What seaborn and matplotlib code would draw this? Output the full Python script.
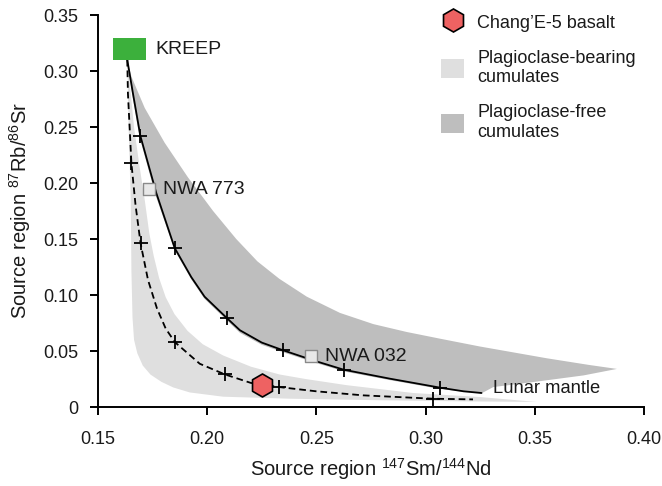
import numpy as np
import pandas as pd
import seaborn as sns
import matplotlib
matplotlib.use("Agg")
import matplotlib.pyplot as plt
from matplotlib.lines import Line2D
from matplotlib.patches import Patch

# ---------------- data ----------------
kreep_x = [0.1569, 0.1718]
kreep_y = [0.3098, 0.3298]

# Plagioclase-free cumulates trend (solid curve, KREEP -> lunar mantle)
free_x = [0.1634, 0.1660, 0.1694, 0.1767, 0.1851, 0.1927, 0.1988, 0.2089, 0.2150, 0.2250, 0.2345, 0.2486, 0.2625, 0.2836, 0.3068, 0.3174, 0.3256]
free_y = [0.310, 0.280, 0.242, 0.191, 0.142, 0.116, 0.0985, 0.0796, 0.0685, 0.0575, 0.0508, 0.0416, 0.0333, 0.0253, 0.0172, 0.0140, 0.0125]
free_tick_x = [0.1694, 0.1851, 0.2089, 0.2345, 0.2625, 0.3068]
free_tick_y = [0.242, 0.142, 0.0796, 0.0508, 0.0333, 0.0172]

# Plagioclase-bearing cumulates trend (dashed curve)
bear_x = [0.1634, 0.1637, 0.1653, 0.1672, 0.1695, 0.1729, 0.1770, 0.1810, 0.1852, 0.1966, 0.2081, 0.2200, 0.2330, 0.2500, 0.2714, 0.3034, 0.3217]
bear_y = [0.310, 0.280, 0.2176, 0.180, 0.1461, 0.1134, 0.0880, 0.0700, 0.0579, 0.0386, 0.0291, 0.0215, 0.0178, 0.0140, 0.0104, 0.0074, 0.0068]
bear_tick_x = [0.1653, 0.1695, 0.1852, 0.2081, 0.2330, 0.3034]
bear_tick_y = [0.2176, 0.1461, 0.0579, 0.0291, 0.0178, 0.0074]

# dark field (plagioclase-free cumulates): outer edge, then inner edge back
dark_x = [0.1634, 0.1653, 0.1714, 0.1805, 0.1912, 0.2027, 0.2133, 0.2230, 0.2330, 0.2456, 0.2608, 0.2761, 0.2913, 0.3066, 0.3249, 0.3555, 0.3750, 0.3876,
          0.3723, 0.3494, 0.3310, 0.3256, 0.3068, 0.2836, 0.2625, 0.2486, 0.2345, 0.2250, 0.2150, 0.2089, 0.1988, 0.1927, 0.1851, 0.1762, 0.1689, 0.1656]
dark_y = [0.310, 0.295, 0.267, 0.236, 0.205, 0.175, 0.150, 0.130, 0.1145, 0.0985, 0.0840, 0.0740, 0.0670, 0.0610, 0.0540, 0.0435, 0.0375, 0.0340,
          0.0282, 0.0223, 0.0178, 0.0122, 0.0160, 0.0240, 0.0318, 0.0400, 0.0490, 0.0555, 0.0662, 0.0775, 0.0965, 0.1140, 0.1400, 0.1900, 0.2420, 0.2800]

# light field (plagioclase-bearing cumulates): left/lower edge, then upper edge back
light_x = [0.1634, 0.1640, 0.1650, 0.1653, 0.1658, 0.1665, 0.1680, 0.1705, 0.1740, 0.1790, 0.1844, 0.1920, 0.2073, 0.2379, 0.2800, 0.3200, 0.3509,
           0.3249, 0.2943, 0.2638, 0.2450, 0.2332, 0.2200, 0.2073, 0.1980, 0.1910, 0.1850, 0.1810, 0.1780, 0.1755, 0.1735, 0.1714, 0.1690, 0.1665, 0.1645]
light_y = [0.310, 0.250, 0.185, 0.122, 0.080, 0.060, 0.048, 0.037, 0.029, 0.0225, 0.0175, 0.0130, 0.0092, 0.0074, 0.0060, 0.0050, 0.0045,
           0.0089, 0.0125, 0.0195, 0.0250, 0.0290, 0.0360, 0.0460, 0.0560, 0.0680, 0.0830, 0.0980, 0.1150, 0.1350, 0.1550, 0.1848, 0.2150, 0.2500, 0.2900]

ce5_x = [0.2252]
ce5_y = [0.0193]

nwa_names = ["NWA 773", "NWA 032"]
nwa_x = [0.1732, 0.2475]
nwa_y = [0.1946, 0.0455]

xticks = [0.15, 0.20, 0.25, 0.30, 0.35, 0.40]
xtick_labels = ["0.15", "0.20", "0.25", "0.30", "0.35", "0.40"]
yticks = [0, 0.05, 0.10, 0.15, 0.20, 0.25, 0.30, 0.35]
ytick_labels = ["0", "0.05", "0.10", "0.15", "0.20", "0.25", "0.30", "0.35"]

# ---------------- style ----------------
sns.set_theme(style="ticks")
plt.rcParams["font.family"] = ["Liberation Sans", "DejaVu Sans"]
plt.rcParams["mathtext.fontset"] = "custom"
plt.rcParams["mathtext.rm"] = "Liberation Sans"
plt.rcParams["mathtext.it"] = "Liberation Sans:italic"
plt.rcParams["mathtext.bf"] = "Liberation Sans:bold"

DARK = "#bebebe"
LIGHT = "#dfdfdf"
GREEN = "#3cb03c"
RED = "#ee6262"
TXT = "#1a1a1a"

fig = plt.figure(figsize=(6.62, 4.86), dpi=100)
ax = fig.add_axes([98 / 662, 1 - 407 / 486, 546 / 662, 392 / 486])

# fields
ax.fill(light_x, light_y, color=LIGHT, lw=0, zorder=1)
ax.fill(dark_x, dark_y, color=DARK, lw=0, zorder=2)

# trend lines
df_free = pd.DataFrame({"x": free_x, "y": free_y})
df_bear = pd.DataFrame({"x": bear_x, "y": bear_y})
sns.lineplot(data=df_free, x="x", y="y", sort=False, estimator=None, color="black", lw=1.3, ax=ax, zorder=3)
sns.lineplot(data=df_bear, x="x", y="y", sort=False, estimator=None, color="black", lw=1.3, ax=ax, zorder=3,
             linestyle=(0, (3.7, 2.2)))

# tick crosses on the curves
for tx, ty in [(free_tick_x, free_tick_y), (bear_tick_x, bear_tick_y)]:
    sns.scatterplot(x=tx, y=ty, marker="+", s=90, color="black", linewidth=1.3, ax=ax, zorder=4)

# KREEP box
ax.fill_between(kreep_x, [kreep_y[0]] * 2, [kreep_y[1]] * 2, color=GREEN, lw=0, zorder=5)
ax.text(0.1761, 0.319, "KREEP", fontsize=14, color=TXT, va="center", ha="left", zorder=6)

# NWA meteorites
sns.scatterplot(x=nwa_x, y=nwa_y, marker="s", s=80, color="#e8e8e8", edgecolor="#8a8a8a",
                linewidth=1.0, ax=ax, zorder=6)
for name, x, y in zip(nwa_names, nwa_x, nwa_y):
    ax.text(x + 0.0066, y, name, fontsize=14, color=TXT, va="center", ha="left", zorder=6)

# Chang'E-5 basalt
sns.scatterplot(x=ce5_x, y=ce5_y, marker="h", s=275, color=RED, edgecolor="black",
                linewidth=1.2, ax=ax, zorder=7)

ax.text(0.3307, 0.0167, "Lunar mantle", fontsize=13.2, color=TXT, va="center", ha="left", zorder=6)

# axes
ax.set_xlim(0.15, 0.40)
ax.set_ylim(0, 0.35)
ax.set_xticks(xticks)
ax.set_xticklabels(xtick_labels, fontsize=13, color=TXT)
ax.set_yticks(yticks)
ax.set_yticklabels(ytick_labels, fontsize=13, color=TXT)
ax.set_xlabel("Source region $^{147}$Sm/$^{144}$Nd", fontsize=14.5, color=TXT)
ax.set_ylabel("Source region $^{87}$Rb/$^{86}$Sr", fontsize=14.5, color=TXT)
ax.xaxis.set_label_coords(0.5, (407 - 469) / 392)
ax.yaxis.set_label_coords((20 - 98) / 546, 0.5)
ax.xaxis.label.set_verticalalignment("center")
ax.yaxis.label.set_verticalalignment("center")
for s in ["top", "right"]:
    ax.spines[s].set_visible(False)
for s in ["left", "bottom"]:
    ax.spines[s].set_linewidth(1.4)
    ax.spines[s].set_color("black")
ax.tick_params(direction="out", length=6, width=1.4, color="black")
ax.tick_params(axis="x", pad=11)
ax.tick_params(axis="y", pad=8)
ax.set_facecolor("white")

# legend
handles = [
    Line2D([], [], marker="h", ls="none", markersize=16.6, markerfacecolor=RED, markeredgecolor="black", markeredgewidth=1.2),
    Patch(facecolor=LIGHT, edgecolor="none"),
    Patch(facecolor=DARK, edgecolor="none"),
]
labels = ["Chang\u2019E-5 basalt", "Plagioclase-bearing\ncumulates", "Plagioclase-free\ncumulates"]
leg = fig.legend(handles, labels, loc="upper left", bbox_to_anchor=(441 / 662, 1 - 12 / 486),
                 frameon=False, fontsize=13, handlelength=1.28, handleheight=1.28,
                 handletextpad=0.72, labelspacing=1.0, borderpad=0, borderaxespad=0)
for t in leg.get_texts():
    t.set_color(TXT)

fig.savefig("out.png", dpi=100)
